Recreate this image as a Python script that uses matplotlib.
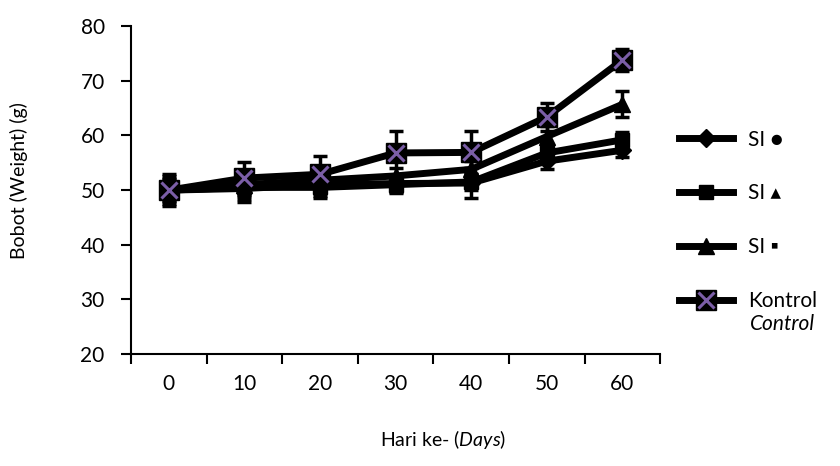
import matplotlib
matplotlib.use('Agg')
import matplotlib.pyplot as plt
from matplotlib.ticker import FixedLocator, NullFormatter

plt.rcParams['font.family'] = ['Lato', 'DejaVu Sans']
plt.rcParams['mathtext.fontset'] = 'custom'
plt.rcParams['mathtext.rm'] = 'Lato'
plt.rcParams['mathtext.it'] = 'Lato:italic'

# data
days = [0, 10, 20, 30, 40, 50, 60]
si_circle = [50, 50.3, 51.0, 51.2, 51.3, 55.3, 57.3]
si_triangle = [50, 50.5, 50.5, 51.0, 51.5, 56.8, 59.2]
si_square = [50, 51.0, 51.8, 52.6, 53.8, 59.8, 65.7]
kontrol = [50, 52.2, 52.9, 56.8, 56.9, 63.4, 73.8]

sd_circle = [2.5, 2.5, 2.0, 1.5, 2.8, 1.5, 1.2]
sd_triangle = [2.0, 2.2, 2.0, 1.5, 1.5, 1.5, 1.5]
sd_square = [2.0, 2.0, 2.0, 1.5, 1.5, 2.0, 2.4]
sd_kontrol = [2.9, 3.0, 3.4, 4.0, 4.0, 2.5, 2.0]

labels = ['SI \u25cf', 'SI \u25b4', 'SI \u25aa', 'Kontrol']

fig = plt.figure(figsize=(8.4, 4.66), dpi=100)
ax = fig.add_axes([0.156, 0.240, 0.63, 0.704])

series = [
    (si_circle, sd_circle, 'D', 9),
    (si_triangle, sd_triangle, 's', 10),
    (si_square, sd_square, '^', 11),
]
handles = []
for vals, sd, mk, ms in series:
    ax.errorbar(days, vals, yerr=sd, fmt='none', ecolor='black',
                elinewidth=2.5, capsize=5, capthick=2.5, zorder=2)
    h, = ax.plot(days, vals, color='black', lw=5, marker=mk, ms=ms,
                 mfc='black', mec='black', zorder=3)
    handles.append(h)

ax.errorbar(days, kontrol, yerr=sd_kontrol, fmt='none', ecolor='black',
            elinewidth=2.5, capsize=5, capthick=2.5, zorder=2)
hk1, = ax.plot(days, kontrol, color='black', lw=5, marker='s', ms=14,
               mfc='black', mec='black', zorder=4)
hk2, = ax.plot(days, kontrol, color='none', lw=0, marker='x', ms=12,
               mec='#7B5EA7', mew=2.2, zorder=5)
handles.append((hk1, hk2))

ax.set_xlim(-5, 65)
ax.set_ylim(20, 80)
ax.set_yticks(range(20, 81, 10))
ax.xaxis.set_major_locator(FixedLocator(range(-5, 66, 10)))
ax.xaxis.set_major_formatter(NullFormatter())
ax.xaxis.set_minor_locator(FixedLocator(days))
ax.set_xticklabels([str(d) for d in days], minor=True)
ax.tick_params(axis='x', which='minor', length=0, labelsize=15, pad=14)
ax.tick_params(axis='x', which='major', length=7, width=1.5, direction='out')
ax.tick_params(axis='y', length=7, width=1.5, direction='out', labelsize=15, pad=12)

for s in ['top', 'right']:
    ax.spines[s].set_visible(False)
for s in ['left', 'bottom']:
    ax.spines[s].set_linewidth(1.5)

ax.set_ylabel('Bobot (Weight) (g)', fontsize=14)
ax.yaxis.set_label_coords(-0.195, 0.53)
ax.set_xlabel('Hari ke- ($\\mathit{Days}$)', fontsize=14)
ax.xaxis.set_label_coords(0.59, -0.225)

leg = ax.legend(handles, labels, loc='upper left', bbox_to_anchor=(1.02, 0.71),
                frameon=False, fontsize=15, handlelength=2.6, labelspacing=1.62,
                handletextpad=0.7, borderaxespad=0)

# second line of the control entry, in italics
fig.text(750 / 840, 1 - 324 / 466, 'Control', fontsize=15, style='italic',
         ha='left', va='center')

fig.savefig('out.png', dpi=100)
